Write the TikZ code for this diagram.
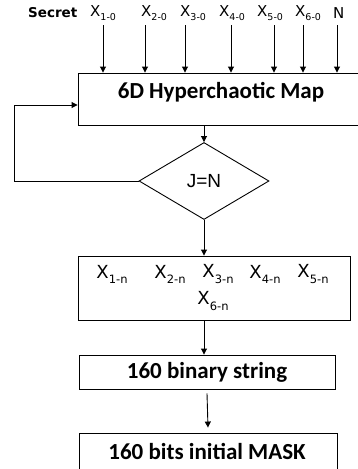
\documentclass[tikz,border=0pt]{standalone}
\usepackage{fontspec}
\setmainfont{Carlito}
\newfontfamily\vfont{DejaVu Sans}
\newfontfamily\afont{Liberation Sans}
\usetikzlibrary{arrows.meta,shapes.geometric}
% small lowered index for the variable names
\newcommand\sbx[2]{\raisebox{-0.28em}{\fontsize{#1}{#1}\selectfont #2}}
\begin{document}
\begin{tikzpicture}[x=1pt,y=-1pt,
  box/.style={draw,line width=0.9pt,inner sep=0pt},
  ln/.style={line width=0.9pt},
  arr/.style={line width=0.9pt,-{Triangle[width=6pt,length=6pt]}},
  boxtext/.style={font=\fontsize{23}{26}\selectfont\bfseries,inner sep=0pt},
  inlabel/.style={font=\vfont\fontsize{15}{17}\selectfont,inner sep=0pt,anchor=west},
  outlabel/.style={font=\vfont\fontsize{18}{20}\selectfont,inner sep=0pt},
]
\useasboundingbox (0,0) rectangle (357,469);

% inputs
\node[inlabel,font=\vfont\bfseries\fontsize{13.5}{15}\selectfont] (secret) at (28,13) {Secret};
\node[inlabel] (x1) at (90,13) {X\sbx{9.5}{1-0}};
\node[inlabel] (x2) at (141,13) {X\sbx{9.5}{2-0}};
\node[inlabel] (x3) at (180,13) {X\sbx{9.5}{3-0}};
\node[inlabel] (x4) at (219,13) {X\sbx{9.5}{4-0}};
\node[inlabel] (x5) at (257,13) {X\sbx{9.5}{5-0}};
\node[inlabel] (x6) at (295,13) {X\sbx{9.5}{6-0}};
\node[inlabel] (xn) at (333,13) {N};

\coordinate (a1) at (103,25);
\coordinate (a2) at (145,25);
\coordinate (a3) at (185,25);
\coordinate (a4) at (231,25);
\coordinate (a5) at (274,25);
\coordinate (a6) at (303,25);
\coordinate (a7) at (337,25);

% map box
\node[box,minimum width=280pt,minimum height=52pt] (map) at (218,99) {};
\node[boxtext] (maptext) at (221,92) {6D Hyperchaotic Map};

\foreach \a in {a1,a2,a3,a4,a5,a6,a7}
  \draw[arr] (\a) -- (\a |- map.north);

% decision
\node[draw,diamond,line width=0.9pt,minimum width=130pt,minimum height=77pt,inner sep=0pt,
      font=\afont\fontsize{19}{21}\selectfont] (dec) at (204,181) {J=N};
\draw[arr] (dec.north |- map.south) -- (dec.north);
\coordinate (fb) at (14,181);
\draw[arr] (dec.west) -- (fb) |- ([yshift=-6pt]map.west);

% final state values
\node[box,minimum width=272pt,minimum height=64pt] (xbox) at (214,288) {};
\node[outlabel] (y1) at (112,274) {X\sbx{11.5}{1-n}};
\node[outlabel] (y2) at (170,274) {X\sbx{11.5}{2-n}};
\node[outlabel] (y3) at (218,274) {X\sbx{11.5}{3-n}};
\node[outlabel] (y4) at (265,274) {X\sbx{11.5}{4-n}};
\node[outlabel] (y5) at (313,274) {X\sbx{11.5}{5-n}};
\node[outlabel] (y6) at (213,301) {X\sbx{11.5}{6-n}};
\draw[arr] (dec.south) -- (dec.south |- xbox.north);

% binary string
\node[box,minimum width=256pt,minimum height=34pt,boxtext] (bin) at (207,372) {160 binary string};
\draw[arr] (dec.south |- xbox.south) -- (dec.south |- bin.north);

% mask
\node[box,minimum width=258pt,minimum height=44pt] (mask) at (208,455) {};
\node[boxtext] (masktext) at (207,451) {160 bits initial MASK};
\draw[arr] ([yshift=-4pt]bin.south) -- ([yshift=5pt]mask.north);
\end{tikzpicture}
\end{document}
